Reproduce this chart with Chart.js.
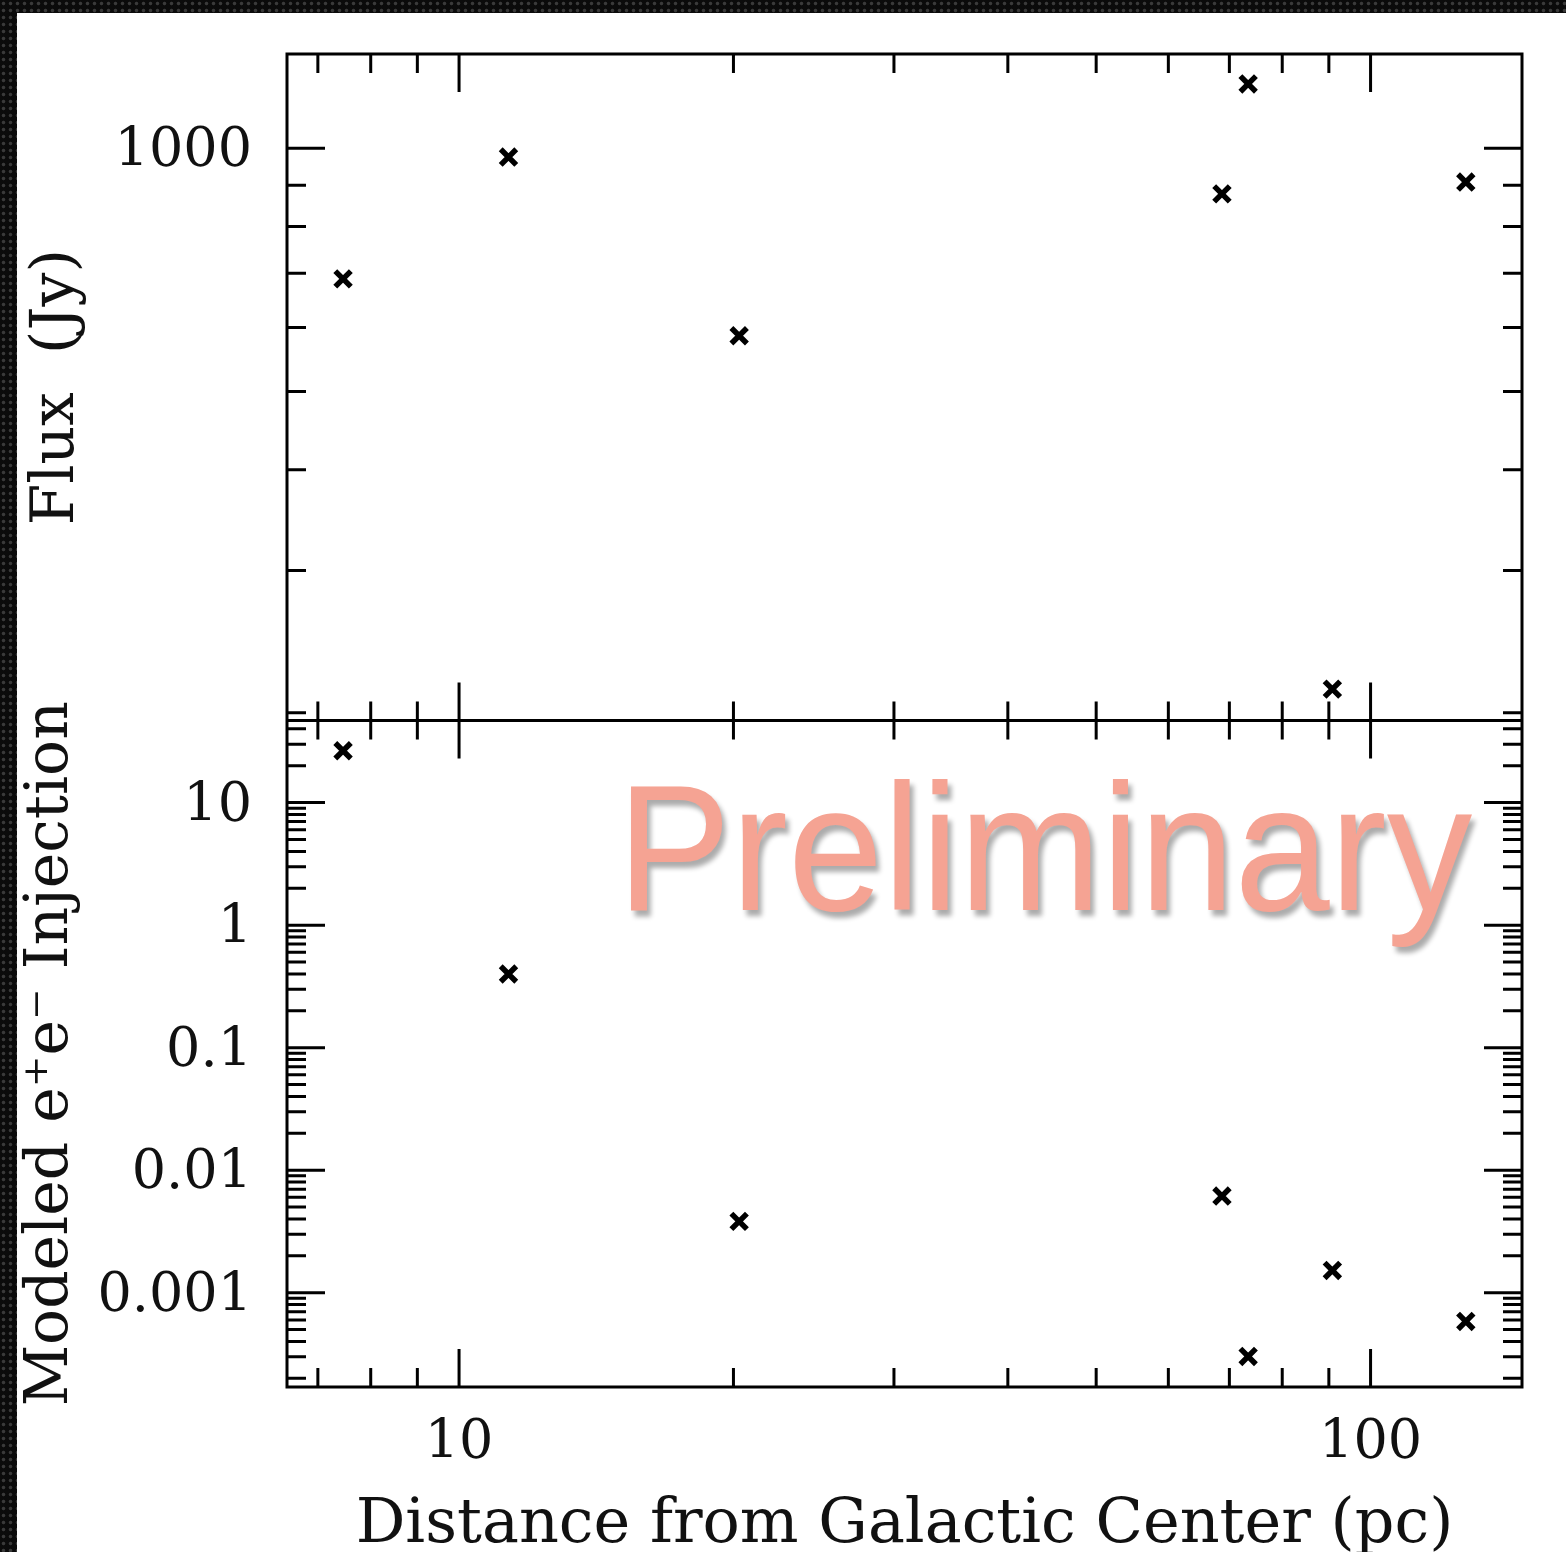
<!DOCTYPE html>
<html>
<head>
<meta charset="utf-8">
<script src="https://cdn.jsdelivr.net/npm/chart.js@4/dist/chart.umd.min.js"></script>
<style>
  html, body { margin: 0; padding: 0; }
  body {
    width: 1566px; height: 1552px; overflow: hidden; position: relative;
    background-color: #0b0b0b;
    background-image: radial-gradient(circle, #3a3a3a 0 1.3px, transparent 2.2px);
    background-size: 7px 7px;
  }
  #plate { position: absolute; left: 17px; top: 13px; right: 0; bottom: 0; background: #fff; }
  #chart { position: absolute; left: 0; top: 0; }
  #stamp {
    position: absolute; left: 617px; top: 758px;
    font: 180px/1 'Liberation Sans', Arial, sans-serif;
    color: #f5a393;
    text-shadow: 4px 6px 6px rgba(0, 0, 0, 0.33);
    transform: scaleX(0.95); transform-origin: 0 0;
    white-space: nowrap; pointer-events: none;
  }
</style>
</head>
<body>
<div id="plate"></div>
<canvas id="chart" width="1566" height="1552"></canvas>
<div id="stamp">Preliminary</div>
<script>
// Sources, distance in pc
const distance = [7.46, 11.33, 20.29, 68.7, 73.4, 90.8, 127.2]
const flux = [689, 975, 586, 878, 1201, 214, 908]
const injection = [26.5, 0.399, 0.00382, 0.00615, 0.000302, 0.00152, 0.000583]

// Axis ranges
const xRange = [6.475, 146.6]
const fluxRange = [195.7, 1308]
const injectionRange = [1.7e-4, 46.8]

// Ticks
const xMajor = [10, 100]
const xLabels = ['10', '100']
const xMinor = [7, 8, 9, 20, 30, 40, 50, 60, 70, 80, 90]
const fluxMajor = [1000]
const fluxLabels = ['1000']
const fluxMinor = [200, 300, 400, 500, 600, 700, 800, 900]
const injectionMajor = [0.001, 0.01, 0.1, 1, 10]
const injectionLabels = ['0.001', '0.01', '0.1', '1', '10']
const injectionMinor = [-4, -3, -2, -1, 0, 1].flatMap(p => [2, 3, 4, 5, 6, 7, 8, 9].map(m => m * 10 ** p))

const serif = "'DejaVu Serif', serif"
const ink = '#111'
const tickFont = { family: serif, size: 54 }
const titleFont = { family: serif, size: 62, lineHeight: 1 }
const sideTitleFont = { family: serif, size: 60, lineHeight: 1 }

const fixedTicks = values => scale => { scale.ticks = values.map(v => ({ value: v })) }
const labelFor = (values, labels) => value => labels[values.indexOf(value)] ?? ''

// Box, seam and inward ticks on every side
const frameTicks = {
    id: 'frameTicks',
    beforeDatasetsDraw(chart) {
        const { ctx, chartArea: area, scales } = chart
        const x = scales.x
        const seam = scales.yFlux.bottom

        ctx.save()
        ctx.strokeStyle = '#000'
        ctx.lineWidth = 3
        ctx.beginPath()
        ctx.rect(area.left, area.top, area.right - area.left, area.bottom - area.top)
        ctx.moveTo(area.left, seam)
        ctx.lineTo(area.right, seam)

        const tick = (x0, y0, x1, y1) => { ctx.moveTo(x0, y0); ctx.lineTo(x1, y1) }
        const xTicks = (values, len) => values.forEach(v => {
            const px = x.getPixelForValue(v)
            tick(px, area.top, px, area.top + len)
            tick(px, area.bottom, px, area.bottom - len)
            tick(px, seam - len, px, seam + len)
        })
        const yTicks = (scale, values, len) => values.forEach(v => {
            if (v < scale.min || v > scale.max) return
            const py = scale.getPixelForValue(v)
            tick(area.left, py, area.left + len, py)
            tick(area.right, py, area.right - len, py)
        })

        xTicks(xMajor, 38)
        xTicks(xMinor, 19)
        yTicks(scales.yFlux, fluxMajor, 38)
        yTicks(scales.yFlux, fluxMinor, 19)
        yTicks(scales.yInj, injectionMajor, 38)
        yTicks(scales.yInj, injectionMinor, 19)
        ctx.stroke()
        ctx.restore()
    }
}

const yAxis = (range, major, labels, title, titlePad, weight) => ({
    type: 'logarithmic',
    position: 'left',
    stack: 'panels',
    stackWeight: 1,
    weight: weight,
    min: range[0],
    max: range[1],
    bounds: 'data',
    grid: { display: false },
    border: { display: false },
    afterBuildTicks: fixedTicks(major),
    afterFit: scale => {
        scale.width = 287
        scale.paddingTop = 0
        scale.paddingBottom = 0
    },
    ticks: { font: tickFont, color: ink, padding: 27, labelOffset: 4, autoSkip: false, callback: labelFor(major, labels) },
    title: { display: true, text: title, font: sideTitleFont, color: ink, padding: { top: titlePad, bottom: 0 } }
})

new Chart(document.getElementById('chart'), {
    type: 'scatter',
    data: {
        datasets: [
            { data: distance.map((d, i) => ({ x: d, y: flux[i] })), yAxisID: 'yFlux' },
            { data: distance.map((d, i) => ({ x: d, y: injection[i] })), yAxisID: 'yInj' }
        ]
    },
    options: {
        responsive: false,
        animation: false,
        layout: { padding: { top: 54, right: 44, bottom: 0, left: 0 } },
        elements: {
            point: { pointStyle: 'crossRot', radius: 11, borderWidth: 5.5, borderColor: '#000', backgroundColor: '#000' }
        },
        datasets: { scatter: { clip: false } },
        plugins: { legend: { display: false }, tooltip: { enabled: false } },
        scales: {
            x: {
                type: 'logarithmic',
                position: 'bottom',
                min: xRange[0],
                max: xRange[1],
                bounds: 'data',
                grid: { display: false },
                border: { display: false },
                afterBuildTicks: fixedTicks(xMajor),
                afterFit: scale => {
                    scale.height = 165
                    scale.paddingLeft = 0
                    scale.paddingRight = 0
                },
                ticks: { font: tickFont, color: ink, padding: 17, autoSkip: false, maxRotation: 0, callback: labelFor(xMajor, xLabels) },
                title: { display: true, text: 'Distance from Galactic Center (pc)', font: titleFont, color: ink, padding: { top: 0, bottom: -5 } }
            },
            yInj: yAxis(injectionRange, injectionMajor, injectionLabels, 'Modeled e⁺e⁻ Injection', 21, 0),
            yFlux: yAxis(fluxRange, fluxMajor, fluxLabels, 'Flux  (Jy)', 27, 1)
        }
    },
    plugins: [frameTicks]
})
</script>
</body>
</html>
